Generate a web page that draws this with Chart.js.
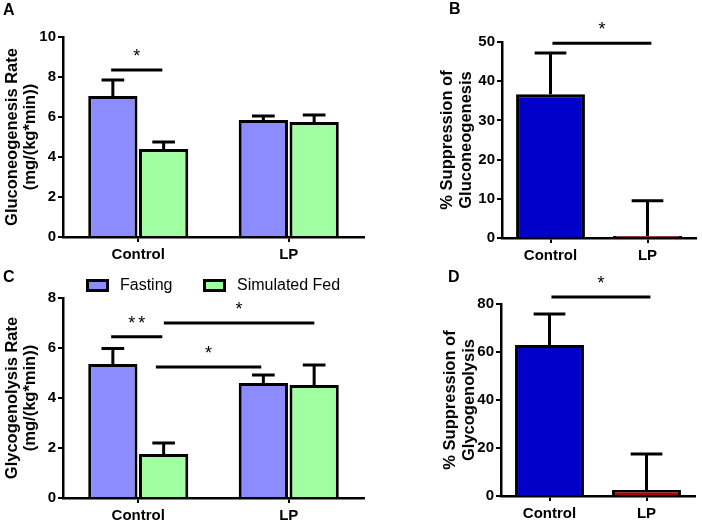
<!DOCTYPE html>
<html><head><meta charset="utf-8">
<script src="https://cdn.jsdelivr.net/npm/chart.js@4.4.1/dist/chart.umd.min.js"></script>
<style>
html,body{margin:0;padding:0;background:#fff;}
#fig{position:relative;width:702px;height:522px;overflow:hidden;background:#fff;}
canvas{position:absolute;}
.lbl{position:absolute;font:bold 16px 'Liberation Sans',Arial,sans-serif;color:#000;line-height:16px;}
</style></head><body>
<div id="fig">
<canvas id="cA" width="380" height="261" style="left:0;top:0"></canvas>
<canvas id="cB" width="282" height="261" style="left:420px;top:0"></canvas>
<canvas id="cC" width="380" height="261" style="left:0;top:261px"></canvas>
<canvas id="cD" width="282" height="261" style="left:420px;top:261px"></canvas>
<div class="lbl" style="left:3px;top:2px">A</div>
<div class="lbl" style="left:449px;top:1px">B</div>
<div class="lbl" style="left:3px;top:269px">C</div>
<div class="lbl" style="left:448px;top:269px">D</div>
</div>
<script>
const FONT = "'Liberation Sans', Arial, sans-serif";

// ---- data ----
const categories = ['Control', 'LP'];
const seriesLabels = ['Fasting', 'Simulated Fed'];

const gngFasting = [7.05, 5.85];
const gngFastingErr = [0.8, 0.2];
const gngFed = [4.4, 5.75];
const gngFedErr = [0.35, 0.35];

const gngSuppression = [36.7, 0.5];
const gngSuppressionErr = [10.5, 9.0];

const glyFasting = [5.36, 4.6];
const glyFastingErr = [0.62, 0.32];
const glyFed = [1.76, 4.52];
const glyFedErr = [0.44, 0.8];

const glySuppression = [62.9, 2.5];
const glySuppressionErr = [12.9, 15.0];

const ticksA = [0, 2, 4, 6, 8, 10];
const ticksB = [0, 10, 20, 30, 40, 50];
const ticksC = [0, 2, 4, 6, 8];
const ticksD = [0, 20, 40, 60, 80];

// significance brackets: from/to in category-index units, y in data units
const sigA = [{from: -0.18, to: 0.16, y: 8.35, text: '*'}];
const sigB = [{from: 0.02, to: 1.04, y: 49.7, text: '*'}];
const sigC = [
  {from: -0.18, to: 0.16, y: 6.45, text: '**'},
  {from: 0.17, to: 1.17, y: 7.0, text: '*'},
  {from: 0.117, to: 0.817, y: 5.24, text: '*'}
];
const sigD = [{from: 0.02, to: 1.04, y: 82.9, text: '*'}];

// ---- styles ----
const FAST = '#8c8cff';
const FED = '#a0ffa0';
const BLUE = '#0000c8';
const RED = '#b00000';

const errorBarPlugin = {
  id: 'errorBars',
  afterDatasetsDraw(chart) {
    const ctx = chart.ctx, ys = chart.scales.y;
    chart.data.datasets.forEach((ds, i) => {
      if (!ds.errorBars) return;
      const meta = chart.getDatasetMeta(i);
      meta.data.forEach((bar, j) => {
        const top = ys.getPixelForValue(ds.data[j] + ds.errorBars[j]);
        const half = bar.width * 0.23;
        ctx.save();
        ctx.strokeStyle = '#000';
        ctx.lineWidth = 3;
        ctx.beginPath();
        ctx.moveTo(bar.x, bar.y);
        ctx.lineTo(bar.x, top);
        ctx.moveTo(bar.x - half, top);
        ctx.lineTo(bar.x + half, top);
        ctx.stroke();
        ctx.restore();
      });
    });
  }
};

function sigPlugin(items) {
  return {
    id: 'sigBars',
    afterDraw(chart) {
      const ctx = chart.ctx, xs = chart.scales.x, ys = chart.scales.y;
      const x0 = xs.getPixelForValue(0);
      const cw = xs.getPixelForValue(1) - x0;
      items.forEach(it => {
        const x1 = x0 + it.from * cw, x2 = x0 + it.to * cw;
        const yy = ys.getPixelForValue(it.y);
        ctx.save();
        ctx.strokeStyle = '#000';
        ctx.lineWidth = 3;
        ctx.beginPath();
        ctx.moveTo(x1, yy);
        ctx.lineTo(x2, yy);
        ctx.stroke();
        ctx.fillStyle = '#000';
        ctx.font = '18px ' + FONT;
        ctx.textAlign = 'center';
        ctx.textBaseline = 'alphabetic';
        if (it.text.length > 1) ctx.letterSpacing = '3px';
        ctx.fillText(it.text, (x1 + x2) / 2 + (it.text.length > 1 ? 1.5 : 0), yy - 8);
        ctx.restore();
      });
    }
  };
}

const boxLegendPlugin = {
  id: 'boxLegend',
  afterDraw(chart) {
    const ctx = chart.ctx, left = chart.chartArea.left;
    const offsets = [24.5, 141.5];
    chart.data.datasets.forEach((ds, i) => {
      const bx = left + offsets[i], cy = 24.5;
      ctx.save();
      ctx.fillStyle = ds.backgroundColor;
      ctx.fillRect(bx, cy - 5, 20, 10);
      ctx.strokeStyle = '#000';
      ctx.lineWidth = 3;
      ctx.strokeRect(bx, cy - 5, 20, 10);
      ctx.fillStyle = '#000';
      ctx.font = '16px ' + FONT;
      ctx.textAlign = 'left';
      ctx.textBaseline = 'middle';
      ctx.fillText(ds.label, bx + 32.5, cy + 0.5);
      ctx.restore();
    });
  }
};

function barDs(label, data, err, color, catPct, barPct) {
  return {
    label: label, data: data, errorBars: err,
    backgroundColor: color, borderColor: '#000', borderWidth: 3, borderSkipped: 'start',
    categoryPercentage: catPct, barPercentage: barPct
  };
}

function makeChart(id, cfg) {
  const cv = document.getElementById(id);
  const W = cv.width, H = cv.height;
  return new Chart(cv, {
    type: 'bar',
    data: {labels: categories, datasets: cfg.datasets},
    options: {
      responsive: false, animation: false, devicePixelRatio: 1,
      layout: {autoPadding: false, padding: {left: 0, top: cfg.area.top, right: W - cfg.area.right, bottom: 0}},
      plugins: {legend: {display: false}, tooltip: {enabled: false}},
      scales: {
        x: {
          type: 'category', offset: true,
          grid: {display: true, drawOnChartArea: false, drawTicks: true, tickLength: 5, offset: false, color: '#000', lineWidth: 2},
          border: {display: true, color: '#000', width: 2.5},
          ticks: {color: '#000', padding: 4, font: {family: FONT, size: 15, weight: 'bold'}},
          afterFit(s) { s.height = H - cfg.area.bottom; }
        },
        y: {
          min: 0, max: cfg.ticks[cfg.ticks.length - 1],
          afterBuildTicks(s) { s.ticks = cfg.ticks.map(v => ({value: v})); },
          grid: {display: true, drawOnChartArea: false, drawTicks: true, tickLength: 5, color: '#000', lineWidth: 2},
          border: {display: true, color: '#000', width: 2.5},
          ticks: {color: '#000', padding: 2, font: {family: FONT, size: 15, weight: 'bold'}},
          title: {display: true, text: cfg.title, color: '#000',
                  font: {family: FONT, size: 16.5, weight: 'bold', lineHeight: 1.12},
                  padding: {top: cfg.titlePad, bottom: 0}},
          afterFit(s) { s.width = cfg.area.left; }
        }
      }
    },
    plugins: [errorBarPlugin, sigPlugin(cfg.sig)].concat(cfg.extra || [])
  });
}

makeChart('cA', {
  area: {left: 63, right: 364, top: 37, bottom: 237},
  ticks: ticksA, sig: sigA, titlePad: 3,
  title: ['Gluconeogenesis Rate', '(mg/(kg*min))'],
  datasets: [
    barDs(seriesLabels[0], gngFasting, gngFastingErr, FAST, 0.675, 0.97),
    barDs(seriesLabels[1], gngFed, gngFedErr, FED, 0.675, 0.97)
  ]
});

makeChart('cB', {
  area: {left: 82, right: 276, top: 42, bottom: 238},
  ticks: ticksB, sig: sigB, titlePad: 18.5,
  title: ['% Suppression of', 'Gluconeogenesis'],
  datasets: [barDs('% Suppression', gngSuppression, gngSuppressionErr, [BLUE, RED], 0.71, 1.0)]
});

makeChart('cC', {
  area: {left: 63, right: 364, top: 37, bottom: 237},
  ticks: ticksC, sig: sigC, titlePad: 3,
  title: ['Glycogenolysis Rate', '(mg/(kg*min))'],
  datasets: [
    barDs(seriesLabels[0], glyFasting, glyFastingErr, FAST, 0.675, 0.97),
    barDs(seriesLabels[1], glyFed, glyFedErr, FED, 0.675, 0.97)
  ],
  extra: [boxLegendPlugin]
});

makeChart('cD', {
  area: {left: 81, right: 275, top: 43, bottom: 235},
  ticks: ticksD, sig: sigD, titlePad: 21.5,
  title: ['% Suppression of', 'Glycogenolysis'],
  datasets: [barDs('% Suppression', glySuppression, glySuppressionErr, [BLUE, RED], 0.71, 1.0)]
});
</script>
</body></html>
